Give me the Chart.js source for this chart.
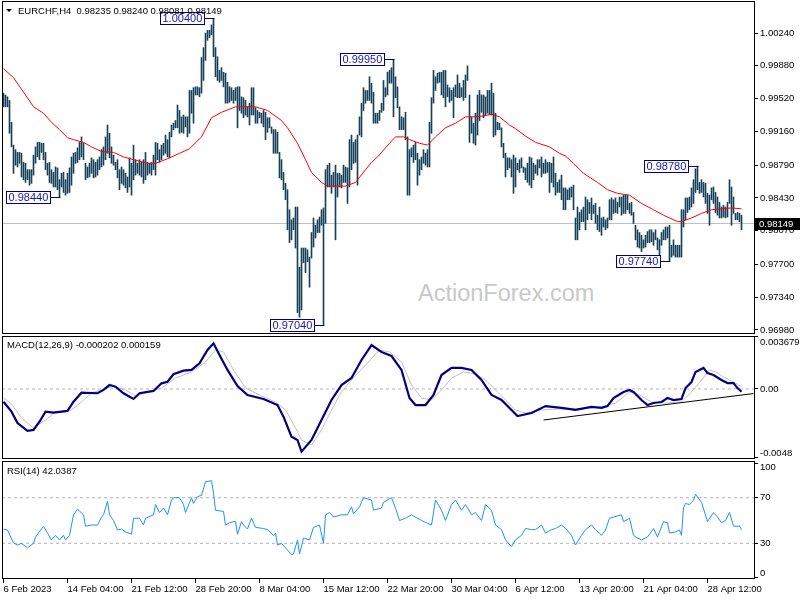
<!DOCTYPE html>
<html>
<head>
<meta charset="utf-8">
<script src="https://cdn.jsdelivr.net/npm/chart.js@4/dist/chart.umd.min.js"></script>
<style>
body { margin: 0; background: #fff; }
#wrap { position: relative; width: 800px; height: 600px; overflow: hidden; font-family: 'Liberation Sans', Arial, sans-serif; }
canvas { position: absolute; left: 0; }
.lbl { position: absolute; font-size: 9.5px; line-height: 1; color: #000; white-space: pre; }
#wm { position: absolute; left: 418px; top: 282px; font-size: 23.5px; line-height: 1; color: #c8c8c8; white-space: pre; }
#tri { position: absolute; left: 6px; top: 9px; width: 0; height: 0; border-left: 3px solid transparent; border-right: 3px solid transparent; border-top: 3px solid #000; }
</style>
</head>
<body>
<div id="wrap">
  <div id="wm">ActionForex.com</div>
  <canvas id="main" width="800" height="334" style="top:0"></canvas>
  <canvas id="macd" width="800" height="124" style="top:335px"></canvas>
  <canvas id="rsi" width="800" height="140" style="top:460px"></canvas>
  <div id="tri"></div>
  <div class="lbl" style="left:18px;top:6px">EURCHF,H4  0.98235 0.98240 0.98081 0.98149</div>
  <div class="lbl" style="left:7px;top:340px">MACD(12,26,9) -0.000202 0.000159</div>
  <div class="lbl" style="left:7px;top:466px">RSI(14) 42.0387</div>
</div>
<script>
// H4 bars, 6 Feb 2023 .. 2 May 2023
const highs = [
0.9958,0.9956,0.9954,0.9950,0.9926,0.9901,0.9896,0.9893,0.9893,0.9892,
0.9882,0.9881,0.9874,0.9874,0.9874,0.9890,0.9899,0.9904,0.9904,0.9903,
0.9903,0.9893,0.9881,0.9882,0.9874,0.9871,0.9877,0.9876,0.9863,0.9870,
0.9871,0.9863,0.9870,0.9876,0.9888,0.9892,0.9893,0.9898,0.9904,0.9910,
0.9903,0.9881,0.9877,0.9881,0.9887,0.9885,0.9882,0.9885,0.9888,0.9896,
0.9899,0.9910,0.9923,0.9914,0.9899,0.9890,0.9882,0.9885,0.9874,0.9877,
0.9874,0.9870,0.9866,0.9887,0.9881,0.9901,0.9885,0.9881,0.9885,0.9882,
0.9885,0.9893,0.9882,0.9881,0.9882,0.9890,0.9904,0.9903,0.9896,0.9901,
0.9903,0.9912,0.9907,0.9915,0.9923,0.9925,0.9928,0.9945,0.9939,0.9932,
0.9934,0.9932,0.9932,0.9961,0.9961,0.9964,0.9965,0.9965,0.9964,0.9997,
1.0008,1.0024,1.0027,1.0027,1.0033,1.0040,1.0008,0.9998,0.9983,0.9986,
0.9981,0.9980,0.9970,0.9965,0.9964,0.9961,0.9964,0.9965,0.9965,0.9954,
0.9953,0.9950,0.9943,0.9947,0.9964,0.9964,0.9942,0.9939,0.9937,0.9936,
0.9939,0.9937,0.9931,0.9931,0.9921,0.9918,0.9918,0.9915,0.9893,0.9885,
0.9871,0.9859,0.9852,0.9830,0.9819,0.9821,0.9833,0.9833,0.9767,0.9788,
0.9788,0.9788,0.9786,0.9778,0.9805,0.9821,0.9813,0.9819,0.9822,0.9830,
0.9832,0.9874,0.9879,0.9881,0.9868,0.9871,0.9879,0.9870,0.9870,0.9868,
0.9879,0.9877,0.9876,0.9907,0.9912,0.9904,0.9907,0.9912,0.9932,0.9947,
0.9964,0.9961,0.9961,0.9976,0.9969,0.9959,0.9936,0.9936,0.9939,0.9947,
0.9972,0.9964,0.9981,0.9983,0.9986,0.9995,0.9976,0.9965,0.9943,0.9932,
0.9931,0.9937,0.9910,0.9896,0.9898,0.9901,0.9904,0.9892,0.9885,0.9888,
0.9896,0.9892,0.9896,0.9926,0.9953,0.9983,0.9976,0.9980,0.9981,0.9981,
0.9983,0.9983,0.9967,0.9964,0.9961,0.9964,0.9967,0.9978,0.9969,0.9964,
0.9972,0.9978,0.9988,0.9956,0.9932,0.9925,0.9936,0.9956,0.9961,0.9956,
0.9956,0.9954,0.9961,0.9961,0.9969,0.9958,0.9936,0.9926,0.9925,0.9920,
0.9903,0.9892,0.9887,0.9887,0.9885,0.9890,0.9887,0.9881,0.9885,0.9887,
0.9877,0.9876,0.9881,0.9888,0.9887,0.9881,0.9879,0.9885,0.9885,0.9888,
0.9881,0.9885,0.9882,0.9882,0.9881,0.9888,0.9870,0.9860,0.9863,0.9868,
0.9854,0.9854,0.9852,0.9854,0.9855,0.9857,0.9821,0.9833,0.9827,0.9830,
0.9833,0.9844,0.9841,0.9838,0.9843,0.9835,0.9837,0.9824,0.9833,0.9821,
0.9822,0.9819,0.9821,0.9841,0.9843,0.9841,0.9843,0.9838,0.9844,0.9844,
0.9846,0.9846,0.9846,0.9837,0.9838,0.9827,0.9813,0.9808,0.9805,0.9802,
0.9797,0.9802,0.9806,0.9808,0.9808,0.9805,0.9808,0.9799,0.9797,0.9805,
0.9808,0.9811,0.9811,0.9813,0.9791,0.9797,0.9791,0.9791,0.9791,0.9830,
0.9830,0.9843,0.9843,0.9844,0.9854,0.9863,0.9875,0.9878,0.9860,0.9863,
0.9860,0.9859,0.9848,0.9846,0.9854,0.9855,0.9849,0.9844,0.9838,0.9833,
0.9835,0.9833,0.9838,0.9863,0.9855,0.9844,0.9826,0.9827,0.9826,0.9824
];
const lows = [
0.9943,0.9943,0.9943,0.9914,0.9899,0.9870,0.9879,0.9877,0.9881,0.9866,
0.9863,0.9860,0.9863,0.9857,0.9859,0.9868,0.9881,0.9888,0.9885,0.9893,
0.9885,0.9874,0.9868,0.9860,0.9859,0.9855,0.9855,0.9852,0.9844,0.9855,
0.9849,0.9846,0.9848,0.9849,0.9857,0.9870,0.9881,0.9882,0.9885,0.9888,
0.9885,0.9863,0.9865,0.9866,0.9870,0.9865,0.9866,0.9868,0.9874,0.9877,
0.9879,0.9885,0.9892,0.9887,0.9881,0.9879,0.9874,0.9865,0.9852,0.9859,
0.9857,0.9854,0.9849,0.9855,0.9846,0.9863,0.9868,0.9870,0.9868,0.9866,
0.9859,0.9863,0.9868,0.9870,0.9868,0.9874,0.9868,0.9885,0.9882,0.9885,
0.9890,0.9892,0.9888,0.9887,0.9910,0.9918,0.9920,0.9920,0.9914,0.9915,
0.9914,0.9921,0.9910,0.9914,0.9936,0.9925,0.9956,0.9956,0.9954,0.9958,
0.9972,0.9994,1.0016,1.0019,1.0022,0.9998,0.9976,0.9972,0.9970,0.9972,
0.9965,0.9947,0.9947,0.9948,0.9950,0.9947,0.9950,0.9920,0.9939,0.9936,
0.9931,0.9934,0.9932,0.9923,0.9934,0.9934,0.9925,0.9925,0.9931,0.9925,
0.9921,0.9907,0.9915,0.9920,0.9914,0.9892,0.9892,0.9892,0.9865,0.9863,
0.9852,0.9841,0.9808,0.9794,0.9797,0.9808,0.9788,0.9717,0.9712,0.9720,
0.9772,0.9761,0.9773,0.9745,0.9777,0.9789,0.9799,0.9805,0.9805,0.9813,
0.9704,0.9815,0.9855,0.9855,0.9848,0.9855,0.9797,0.9844,0.9855,0.9854,
0.9860,0.9860,0.9837,0.9855,0.9874,0.9881,0.9882,0.9857,0.9912,0.9910,
0.9939,0.9947,0.9950,0.9950,0.9947,0.9925,0.9925,0.9925,0.9928,0.9937,
0.9939,0.9954,0.9956,0.9969,0.9969,0.9932,0.9953,0.9942,0.9918,0.9918,
0.9918,0.9907,0.9846,0.9846,0.9888,0.9882,0.9885,0.9857,0.9868,0.9874,
0.9881,0.9879,0.9877,0.9877,0.9914,0.9947,0.9961,0.9969,0.9970,0.9956,
0.9953,0.9943,0.9954,0.9948,0.9950,0.9931,0.9954,0.9953,0.9953,0.9954,
0.9950,0.9953,0.9972,0.9904,0.9914,0.9903,0.9901,0.9912,0.9928,0.9937,
0.9931,0.9934,0.9936,0.9934,0.9934,0.9910,0.9912,0.9918,0.9918,0.9899,
0.9887,0.9866,0.9874,0.9876,0.9866,0.9848,0.9855,0.9874,0.9871,0.9876,
0.9871,0.9863,0.9860,0.9857,0.9854,0.9863,0.9870,0.9868,0.9876,0.9866,
0.9870,0.9870,0.9871,0.9849,0.9860,0.9855,0.9846,0.9849,0.9849,0.9841,
0.9830,0.9830,0.9841,0.9841,0.9844,0.9830,0.9797,0.9797,0.9808,0.9817,
0.9817,0.9808,0.9819,0.9826,0.9819,0.9826,0.9815,0.9808,0.9806,0.9802,
0.9811,0.9808,0.9810,0.9819,0.9819,0.9826,0.9827,0.9826,0.9833,0.9824,
0.9826,0.9826,0.9830,0.9826,0.9824,0.9815,0.9797,0.9789,0.9788,0.9784,
0.9788,0.9789,0.9794,0.9794,0.9795,0.9791,0.9797,0.9786,0.9778,0.9791,
0.9797,0.9797,0.9799,0.9774,0.9778,0.9780,0.9778,0.9778,0.9778,0.9778,
0.9811,0.9819,0.9827,0.9830,0.9833,0.9837,0.9849,0.9852,0.9848,0.9849,
0.9844,0.9837,0.9826,0.9813,0.9841,0.9837,0.9827,0.9824,0.9821,0.9821,
0.9822,0.9821,0.9822,0.9837,0.9813,0.9826,0.9819,0.9819,0.9817,0.9808
];
const lastClose = 0.98149;

// moving average, [bar index, value]
const maPts = [
[0,0.9985],[5,0.9975],[11,0.9956],[15,0.9943],[20,0.9936],[24,0.9926],[28,0.9918],[32,0.9909],[35,0.9907],[40,0.9904],
[44,0.9899],[49,0.9894],[55,0.9893],[60,0.9888],[65,0.9885],[72,0.9881],[76,0.9881],[82,0.9886],[88,0.9892],[93,0.9897],
[99,0.9910],[104,0.9931],[109,0.9937],[116,0.9943],[126,0.9943],[132,0.9939],[139,0.9928],[142,0.9920],[147,0.9903],[151,0.9885],
[154,0.9871],[159,0.9860],[162,0.9856],[171,0.9856],[176,0.9860],[181,0.9874],[184,0.9882],[187,0.9888],[193,0.9903],[196,0.9910],
[200,0.9910],[203,0.9907],[208,0.9903],[212,0.9901],[216,0.9910],[221,0.9920],[226,0.9925],[231,0.9932],[236,0.9932],[240,0.9933],
[244,0.9935],[248,0.9932],[253,0.9923],[256,0.9919],[261,0.9911],[266,0.9904],[273,0.9899],[278,0.9892],[281,0.9889],[285,0.9881],
[290,0.9870],[297,0.9860],[302,0.9852],[307,0.9848],[313,0.9846],[319,0.9837],[325,0.9830],[330,0.9824],[337,0.9817],[339,0.9817],
[344,0.9821],[349,0.9826],[354,0.9830],[359,0.9831],[364,0.9832],[369,0.9831]
];

const markers = [
  { i: 105, price: 1.0040, text: '1.00400' },
  { i: 195, price: 0.9995, text: '0.99950' },
  { i: 28,  price: 0.9844, text: '0.98440' },
  { i: 160, price: 0.9704, text: '0.97040' },
  { i: 347, price: 0.9878, text: '0.98780' },
  { i: 333, price: 0.9774, text: '0.97740' }
];

const macdPts = [
[0,-0.00089],[4,-0.00158],[7,-0.00237],[12,-0.00292],[15,-0.00285],[18,-0.00228],[21,-0.00158],[25,-0.00165],[32,-0.00153],[35,-0.00089],
[39,-0.00026],[47,-0.00030],[50,-0.00007],[53,0.00027],[56,0.00016],[60,-0.00030],[65,-0.00070],[68,-0.00030],[75,-0.00014],[79,0.00039],
[82,0.00050],[85,0.00102],[90,0.00127],[94,0.00132],[98,0.00178],[102,0.00271],[105,0.00317],[108,0.00236],[112,0.00132],[117,0.00020],
[122,-0.00042],[130,-0.00070],[137,-0.00112],[140,-0.00193],[144,-0.00332],[147,-0.00355],[149,-0.00436],[154,-0.00355],[159,-0.00216],[164,-0.00077],
[169,0.00027],[174,0.00076],[179,0.00201],[184,0.00305],[189,0.00257],[194,0.00229],[199,0.00132],[203,-0.00063],[206,-0.00112],[211,-0.00112],
[215,-0.00042],[219,0.00097],[224,0.00146],[229,0.00146],[234,0.00132],[239,0.00062],[244,-0.00042],[249,-0.00077],[254,-0.00146],[257,-0.00188],
[264,-0.00167],[271,-0.00119],[279,-0.00132],[286,-0.00146],[294,-0.00125],[299,-0.00132],[302,-0.00119],[305,-0.00063],[310,-0.00021],[313,-0.00007],
[315,-0.00021],[319,-0.00077],[322,-0.00112],[325,-0.00098],[329,-0.00091],[332,-0.00063],[335,-0.00077],[339,-0.00070],[341,0.00006],[344,0.00048],
[346,0.00118],[350,0.00146],[352,0.00111],[355,0.00097],[359,0.00062],[362,0.00041],[365,0.00041],[367,0.00006],[369,-0.00020]
];
const signalPts = [
[0,-0.00063],[4,-0.00105],[9,-0.00202],[15,-0.00271],[21,-0.00216],[26,-0.00160],[34,-0.00146],[39,-0.00091],[44,-0.00028],[49,-0.00007],
[55,0.00020],[61,-0.00007],[66,-0.00049],[71,-0.00028],[79,0.00006],[86,0.00076],[94,0.00118],[101,0.00187],[106,0.00271],[110,0.00257],
[115,0.00132],[121,0.00006],[129,-0.00049],[136,-0.00091],[141,-0.00146],[146,-0.00271],[149,-0.00355],[154,-0.00390],[159,-0.00285],[164,-0.00146],
[169,-0.00021],[174,0.00062],[181,0.00166],[188,0.00271],[193,0.00257],[199,0.00187],[204,0.00027],[209,-0.00063],[214,-0.00077],[219,-0.00007],
[224,0.00076],[230,0.00118],[236,0.00104],[241,0.00062],[246,-0.00007],[251,-0.00077],[256,-0.00146],[261,-0.00167],[269,-0.00146],[279,-0.00139],
[288,-0.00139],[299,-0.00125],[306,-0.00098],[313,-0.00021],[318,-0.00042],[324,-0.00091],[331,-0.00098],[339,-0.00091],[344,-0.00021],[349,0.00062],
[353,0.00132],[356,0.00118],[361,0.00076],[366,0.00041],[369,0.00016]
];
const trendPts = [[270,-0.00216],[375,-0.00032]];

const rsiPts = [
[0,42.5],[2,41.7],[5,30.3],[7,28.5],[9,30],[12,26],[15,30],[16,35.5],[20,45],[22,39],[24,33],[26,37],[28,33],[30,37],[31,33],[33,37],
[35,55],[37,60],[40,55],[41,45],[44,46],[47,46],[49,53],[50,55],[52,67],[53,55],[55,50],[57,41.7],[59,42.5],[61,40],[64,38],[65,52],
[68,52],[70,46],[71,52],[75,55],[76,64],[78,57],[80,61],[82,55],[84,68],[85,70],[88,70],[90,64],[91,57],[94,70],[95,65],[97,71],
[99,72],[101,84],[104,85],[105,74],[106,59],[110,58],[111,46],[113,48],[115,49],[116,49],[117,38],[119,49],[120,46],[122,42.5],[124,52],[126,44],
[130,43],[132,42],[135,37],[136,39],[137,28.5],[139,30],[141,26],[144,20],[145,20.6],[147,33],[148,20.6],[150,34.6],[153,33],[155,44],[158,46],[160,30],
[161,55],[163,57],[165,53],[169,55],[172,55],[174,62],[175,56],[178,62],[180,70],[184,68],[185,59],[189,61],[190,66],[194,70],[196,61],[198,50],
[201,52],[204,55],[209,50],[214,46],[216,68],[219,59],[221,50],[224,64],[226,68],[229,59],[231,64],[234,55],[236,57],[239,50],[241,64],[244,59],
[246,46],[249,42],[251,33],[254,27],[256,33],[259,37],[261,43],[264,42],[266,42],[269,46],[271,39],[274,42],[276,43],[279,46],[281,43],[284,37],
[286,28.5],[289,37],[291,42],[294,46],[296,42],[299,37],[301,41.7],[303,52],[305,53],[309,55],[310,49],[313,52],[315,37],[317,34.6],[319,33],[322,35.5],
[325,43],[327,35.5],[330,49],[332,48],[333,39],[336,40],[338,41.7],[339,37],[340,61],[341,65],[343,64],[345,68],[346,73],[349,66],[352,49],[355,57],
[357,53],[359,48],[361,50],[363,57],[365,45],[368,45],[369,42.04]
];

const priceTicks = [1.0024, 0.9988, 0.9952, 0.9916, 0.9879, 0.9843, 0.9807, 0.9770, 0.9734, 0.9698];
const macdTicks = [0.003679, 0, -0.0048];
const macdTickLabels = ['0.003679', '0.00', '-0.0048'];
const rsiTicks = [100, 70, 30, 0];
const xTickIdx = [0, 32, 64, 96, 128, 160, 192, 224, 256, 288, 320, 352];
const xLabels = ['6 Feb 2023', '14 Feb 04:00', '21 Feb 12:00', '28 Feb 20:00', '8 Mar 04:00', '15 Mar 12:00',
                 '22 Mar 20:00', '30 Mar 04:00', '6 Apr 12:00', '13 Apr 20:00', '21 Apr 04:00', '28 Apr 12:00'];

Chart.defaults.font.family = "'Liberation Sans', Arial, sans-serif";
Chart.defaults.font.size = 9.5;
Chart.defaults.color = '#000';
Chart.defaults.animation = false;

const xMin = -0.75, xMax = 375.25;
const pts = arr => arr.map(p => ({ x: p[0], y: p[1] }));
const hline = v => [{ x: xMin, y: v }, { x: xMax, y: v }];

function xScale(show) {
  return {
    type: 'linear', min: xMin, max: xMax, offset: false, display: show,
    afterBuildTicks: s => { s.ticks = xTickIdx.map(v => ({ value: v })); },
    afterFit: s => { s.height = show ? 21 : 0; s.paddingLeft = 0; s.paddingRight = 0; },
    grid: { drawOnChartArea: false, drawTicks: true, tickLength: 4, color: '#000' },
    border: { display: false },
    ticks: { align: 'start', maxRotation: 0, autoSkip: false, padding: 1, callback: (v, i) => xLabels[i] }
  };
}
function yScale(min, max, ticks, labels) {
  return {
    type: 'linear', position: 'right', min: min, max: max,
    afterBuildTicks: s => { s.ticks = ticks.map(v => ({ value: v })); },
    afterFit: s => { s.width = 46; s.paddingTop = 0; s.paddingBottom = 0; },
    grid: { drawOnChartArea: false, drawTicks: true, tickLength: 4, color: '#000' },
    border: { display: false },
    ticks: { padding: 2, autoSkip: false, callback: (v, i) => labels[i] }
  };
}

// panel frame
const frame = {
  id: 'frame',
  afterDraw(chart) {
    const { ctx, chartArea: a } = chart;
    ctx.save();
    ctx.strokeStyle = '#000';
    ctx.lineWidth = 1;
    ctx.strokeRect(a.left + 0.5, a.top + 0.5, a.right - a.left, a.bottom - a.top - 1);
    ctx.restore();
  }
};
// keep edge labels inside the panel, like the terminal does
const clampLabels = {
  id: 'clampLabels',
  beforeDraw(chart) {
    const s = chart.scales.y, a = chart.chartArea;
    s.getLabelItems().forEach(it => {
      const t = it.options.translation;
      t[1] = Math.min(Math.max(t[1], a.top + 6), a.bottom - 6);
    });
  }
};
const markerPlugin = {
  id: 'markers',
  afterDatasetsDraw(chart) {
    const { ctx, scales: { x, y } } = chart;
    ctx.save();
    ctx.font = "11px 'Liberation Sans', Arial, sans-serif";
    ctx.textBaseline = 'middle';
    ctx.lineWidth = 1;
    markers.forEach(m => {
      const bx = x.getPixelForValue(m.i);
      const yc = Math.round(y.getPixelForValue(m.price)) + 0.5;
      const tw = ctx.measureText(m.text).width;
      const w = Math.round(tw + 4), h = 13;
      const right = Math.round(bx - 10) + 0.5;
      const left = right - w;
      ctx.strokeStyle = '#000080';
      ctx.beginPath();
      ctx.moveTo(right, yc);
      ctx.lineTo(Math.round(bx) + 0.5, yc);
      ctx.stroke();
      ctx.fillStyle = '#fff';
      ctx.fillRect(left, yc - 6, w, h - 1);
      ctx.strokeRect(left, yc - 6, w, h - 1);
      ctx.fillStyle = '#1414b4';
      ctx.fillText(m.text, left + 2, yc + 0.5);
    });
    ctx.restore();
  },
  afterDraw(chart) {
    const { ctx, chartArea: a, scales: { y } } = chart;
    const py = Math.round(y.getPixelForValue(lastClose));
    ctx.save();
    ctx.fillStyle = '#000';
    ctx.fillRect(a.right + 1, py - 6, 800 - a.right, 12);
    ctx.fillStyle = '#fff';
    ctx.font = "9.5px 'Liberation Sans', Arial, sans-serif";
    ctx.textBaseline = 'middle';
    ctx.fillText(lastClose.toFixed(5), a.right + 5, py);
    ctx.restore();
  }
};

const common = {
  responsive: false,
  animation: false,
  events: [],
  plugins: { legend: { display: false }, tooltip: { enabled: false } }
};

new Chart(document.getElementById('main'), {
  type: 'bar',
  data: {
    datasets: [
      { type: 'line', data: pts(maPts), borderColor: '#ff0000', borderWidth: 1, pointRadius: 0, tension: 0, order: 0 },
      { type: 'bar', data: highs.map((h, i) => ({ x: i, y: [lows[i], h] })), backgroundColor: '#17415a', barThickness: 1, order: 1 },
      { type: 'line', data: hline(lastClose), borderColor: '#c0c0c0', borderWidth: 1, pointRadius: 0, order: 2 }
    ]
  },
  options: Object.assign({}, common, {
    layout: { padding: { left: 2, top: 1, right: 0, bottom: 0 } },
    scales: {
      x: xScale(false),
      y: yScale(0.96936, 1.00592, priceTicks, priceTicks.map(v => v.toFixed(5)))
    }
  }),
  plugins: [frame, markerPlugin]
});

new Chart(document.getElementById('macd'), {
  type: 'line',
  data: {
    datasets: [
      { data: pts(macdPts), borderColor: '#000080', borderWidth: 2.2, pointRadius: 0, tension: 0, order: 0 },
      { data: pts(trendPts), borderColor: '#000', borderWidth: 1, pointRadius: 0, order: 1 },
      { data: pts(signalPts), borderColor: '#c0c0c0', borderWidth: 1, pointRadius: 0, tension: 0, order: 2 },
      { data: hline(0), borderColor: '#b4b4b4', borderWidth: 1, borderDash: [3, 3], pointRadius: 0, order: 3 }
    ]
  },
  options: Object.assign({}, common, {
    layout: { padding: { left: 2, top: 1, right: 0, bottom: 0 } },
    scales: {
      x: xScale(false),
      y: yScale(-0.00487, 0.003679, macdTicks, macdTickLabels)
    }
  }),
  plugins: [frame, clampLabels]
});

new Chart(document.getElementById('rsi'), {
  type: 'line',
  data: {
    datasets: [
      { data: pts(rsiPts), borderColor: '#1e90ff', borderWidth: 1, pointRadius: 0, tension: 0, order: 0 },
      { data: hline(70), borderColor: '#b4b4b4', borderWidth: 1, borderDash: [3, 3], pointRadius: 0, order: 1 },
      { data: hline(30), borderColor: '#b4b4b4', borderWidth: 1, borderDash: [3, 3], pointRadius: 0, order: 1 }
    ]
  },
  options: Object.assign({}, common, {
    layout: { padding: { left: 2, top: 1, right: 0, bottom: 0 } },
    scales: {
      x: xScale(true),
      y: yScale(-1.3, 102.2, rsiTicks, rsiTicks.map(String))
    }
  }),
  plugins: [frame, clampLabels]
});
</script>
</body>
</html>
